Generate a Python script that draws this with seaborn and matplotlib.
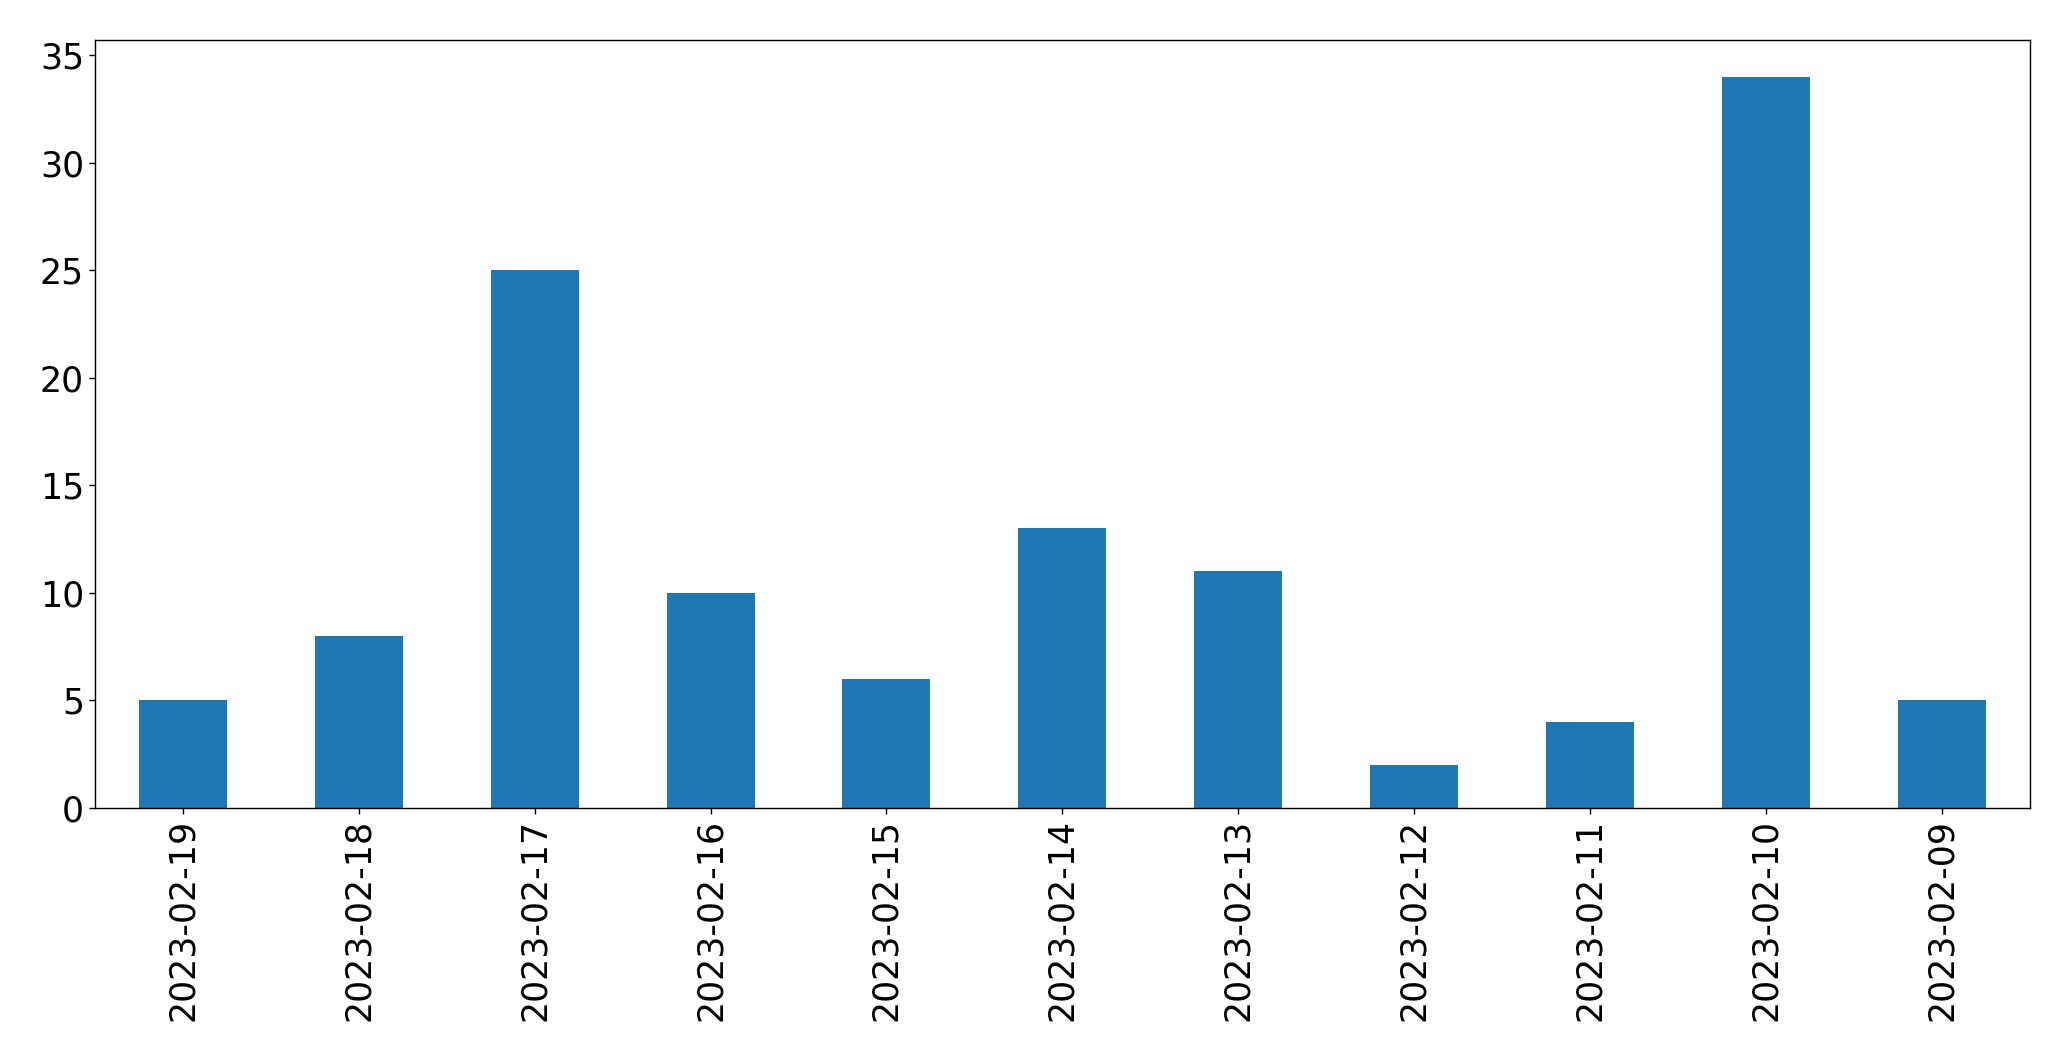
import matplotlib
matplotlib.use("Agg")
import matplotlib.pyplot as plt
import seaborn as sns
import pandas as pd

dates = ["2023-02-19", "2023-02-18", "2023-02-17", "2023-02-16", "2023-02-15",
         "2023-02-14", "2023-02-13", "2023-02-12", "2023-02-11", "2023-02-10",
         "2023-02-09"]
counts = [5, 8, 25, 10, 6, 13, 11, 2, 4, 34, 5]

sns.set_style("ticks")
plt.rcParams['font.family'] = ['DejaVu Sans']
plt.rcParams['text.color'] = 'black'
plt.rcParams['xtick.color'] = 'black'
plt.rcParams['ytick.color'] = 'black'
plt.rcParams['axes.edgecolor'] = 'black'

df = pd.DataFrame({"date": dates, "count": counts})

fig = plt.figure(figsize=(20.71, 10.61), dpi=100)
ax = fig.add_axes([0.0459, 0.2385, 0.9341, 0.7235])
sns.barplot(data=df, x="date", y="count", order=dates, color="#1f77b4",
            saturation=1, width=0.5, linewidth=0, ax=ax)
ax.set_xlim(-0.5, len(dates) - 0.5)
ax.set_ylim(0, max(counts) * 1.05)
ax.set_xlabel("")
ax.set_ylabel("")
for s in ax.spines.values():
    s.set_visible(True)
    s.set_color("black")
    s.set_linewidth(1.0)
ax.tick_params(axis='both', labelsize=25, length=4.5, width=1,
               color="black", labelcolor="black")
ax.tick_params(axis='x', labelrotation=90)
fig.savefig("out.png", dpi=100)
